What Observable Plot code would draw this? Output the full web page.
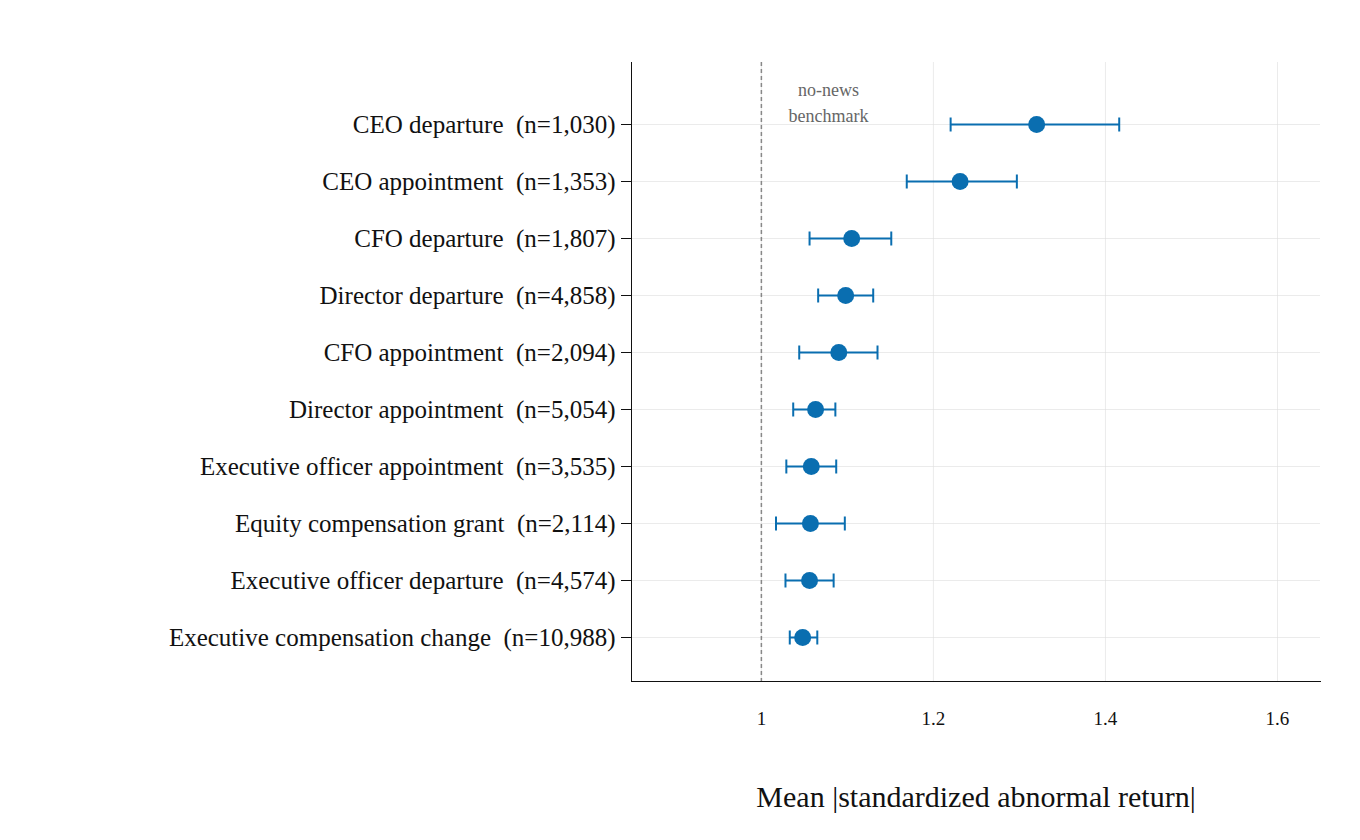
<!DOCTYPE html>
<html><head><meta charset="utf-8">
<script src="https://cdn.jsdelivr.net/npm/d3@7"></script>
<script src="https://cdn.jsdelivr.net/npm/@observablehq/plot@0.6"></script>
<style>body{margin:0;background:#fff}</style>
</head><body><div id="c"></div>
<script>
const events = ["CEO departure","CEO appointment","CFO departure","Director departure","CFO appointment","Director appointment","Executive officer appointment","Equity compensation grant","Executive officer departure","Executive compensation change"];
const counts = ["1,030","1,353","1,807","4,858","2,094","5,054","3,535","2,114","4,574","10,988"];
const means = [1.320,1.231,1.105,1.098,1.090,1.063,1.058,1.057,1.056,1.048];
const lows  = [1.220,1.169,1.056,1.066,1.044,1.037,1.029,1.017,1.028,1.033];
const highs = [1.416,1.297,1.151,1.130,1.135,1.086,1.087,1.097,1.084,1.065];
const xTicks = [1,1.2,1.4,1.6];
const data = events.map((e,i)=>({label:`${e}\u00a0\u00a0(n=${counts[i]})`, mean:means[i], lo:lows[i], hi:highs[i]}));
const labels = data.map(d=>d.label);
const blue = "#0a6eb0";
const vbar = {draw(ctx, size){ const r = Math.sqrt(size/Math.PI); ctx.moveTo(0,-r); ctx.lineTo(0,r); }};
const chart = Plot.plot({
  width:1360, height:840,
  marginLeft:631, marginRight:40, marginTop:62, marginBottom:159,
  style:{fontFamily:"'Liberation Serif', serif", color:"#111", background:"#fff"},
  x:{domain:[0.849,1.65], ticks:xTicks},
  y:{type:"point", domain:labels, padding:0, insetTop:62, insetBottom:44},
  marks:[
    Plot.gridX(xTicks,{stroke:"#ddd", strokeOpacity:0.6}),
    Plot.gridY(labels,{stroke:"#ddd", strokeOpacity:0.6}),
    Plot.ruleX([1],{stroke:"#888", strokeDasharray:"4,3", strokeWidth:1.5}),
    Plot.frame({anchor:"left", stroke:"#111"}),
    Plot.frame({anchor:"bottom", stroke:"#111"}),
    Plot.axisY({tickSize:10, tickPadding:6, fontSize:25, label:null}),
    Plot.axisX({ticks:xTicks, tickSize:0, tickPadding:30, fontSize:19, tickFormat:d=>String(d),
      label:"Mean |standardized abnormal return|", labelAnchor:"center", labelArrow:"none", labelOffset:125}),
    Plot.link(data,{x1:"lo", x2:"hi", y1:"label", y2:"label", stroke:blue, strokeWidth:2}),
    Plot.dot(data,{x:"lo", y:"label", symbol:vbar, r:7, stroke:blue, strokeWidth:2, fill:"none"}),
    Plot.dot(data,{x:"hi", y:"label", symbol:vbar, r:7, stroke:blue, strokeWidth:2, fill:"none"}),
    Plot.dot(data,{x:"mean", y:"label", r:8.5, fill:blue, stroke:"none"}),
    Plot.text(["no-news\nbenchmark"],{x:1.078, frameAnchor:"top", dy:15, lineHeight:1.45, fill:"#666", fontSize:18})
  ]
});
chart.querySelectorAll('g[aria-label="x-axis label"]').forEach(n=>n.setAttribute("font-size","30"));
document.getElementById("c").appendChild(chart);
</script></body></html>
